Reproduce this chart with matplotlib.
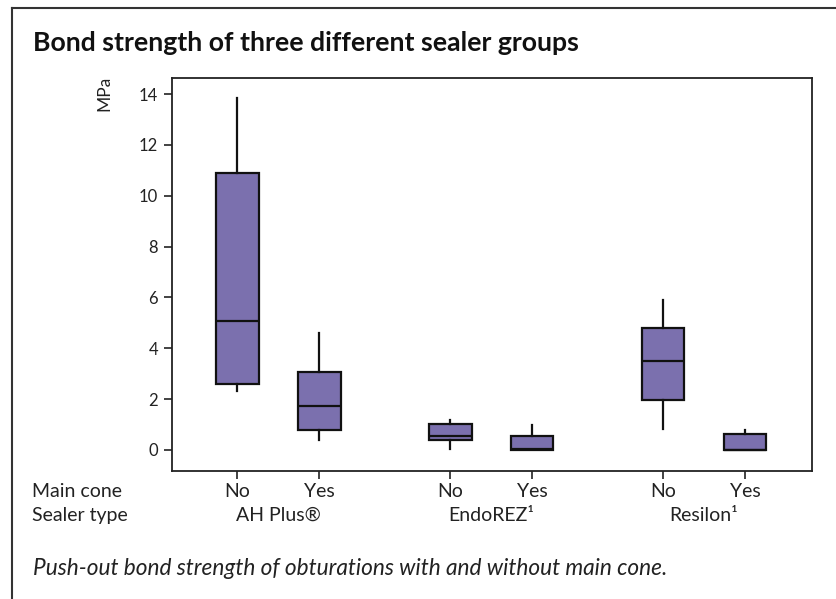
import matplotlib
matplotlib.use("Agg")
import matplotlib.pyplot as plt
from matplotlib.lines import Line2D

# Data (MPa)
main_cone = ["No", "Yes", "No", "Yes", "No", "Yes"]
sealer_types = ["AH Plus®", "EndoREZ¹", "Resilon¹"]
whisker_low = [2.33, 0.38, 0.05, 0.0, 0.84, 0.0]
q1 = [2.61, 0.79, 0.37, 0.0, 1.96, 0.0]
median = [5.06, 1.73, 0.56, 0.05, 3.50, 0.0]
q3 = [10.90, 3.08, 1.03, 0.55, 4.81, 0.63]
whisker_high = [13.86, 4.59, 1.18, 0.97, 5.88, 0.79]
positions = [0, 1, 2.6, 3.6, 5.2, 6.2]
yticks = [0, 2, 4, 6, 8, 10, 12, 14]

plt.rcParams['font.family'] = ['Lato', 'DejaVu Sans']

fig = plt.figure(figsize=(8.36, 5.99), dpi=100)
W, H = 836, 599
ax = fig.add_axes([172 / W, 1 - 471 / H, (812 - 172) / W, (471 - 78) / H])

stats = []
for i in range(len(median)):
    stats.append(dict(med=median[i], q1=q1[i], q3=q3[i],
                      whislo=whisker_low[i], whishi=whisker_high[i], fliers=[]))

ax.bxp(stats, positions=positions, widths=0.52, patch_artist=True,
       showcaps=False, showfliers=False,
       boxprops=dict(facecolor='#7b70ae', edgecolor='#111111', linewidth=1.6),
       medianprops=dict(color='#111111', linewidth=1.6),
       whiskerprops=dict(color='#111111', linewidth=1.6))

ax.set_xlim(-0.80, 7.02)
ax.set_ylim(-0.83, 14.63)
ax.set_yticks(yticks)
ax.set_yticklabels([str(t) for t in yticks], fontsize=12, color='#222222')
ax.set_xticks(positions)
ax.set_xticklabels([])
ax.tick_params(axis='both', direction='out', length=6, width=1.2, color='#222222')
ax.tick_params(axis='y', pad=4)
for s in ax.spines.values():
    s.set_linewidth(1.3)
    s.set_color('#222222')

# Y label
fig.text(104 / W, 1 - 93 / H, "MPa", rotation=90, fontsize=12.5,
         ha='center', va='center', color='#222222')

# x label rows
fig.text(32 / W, 1 - 497 / H, "Main cone", fontsize=14, ha='left', va='baseline', color='#222222')
fig.text(32 / W, 1 - 521 / H, "Sealer type", fontsize=14, ha='left', va='baseline', color='#222222')
for p, lab in zip(positions, main_cone):
    xd = ax.transData.transform((p, 0))[0]
    fig.text(xd / W, 1 - 497 / H, lab, fontsize=14, ha='center', va='baseline', color='#222222')
for g, lab in enumerate(sealer_types):
    mid = (positions[2 * g] + positions[2 * g + 1]) / 2
    xd = ax.transData.transform((mid, 0))[0]
    fig.text(xd / W, 1 - 521 / H, lab, fontsize=14, ha='center', va='baseline', color='#222222')

# Title and caption
fig.text(33 / W, 1 - 51 / H, "Bond strength of three different sealer groups",
         fontsize=19.2, fontweight='bold', ha='left', va='baseline', color='#111111')
fig.text(33 / W, 1 - 575 / H, "Push-out bond strength of obturations with and without main cone.",
         fontsize=16.3, style='italic', ha='left', va='baseline', color='#222222')

# Outer frame (left and top edges)
frame_kw = dict(transform=fig.transFigure, color='#333333', linewidth=1.5)
fig.add_artist(Line2D([12 / W, 12 / W], [0, 1 - 8 / H], **frame_kw))
fig.add_artist(Line2D([12 / W, 1.0], [1 - 8 / H, 1 - 8 / H], **frame_kw))

fig.savefig("out.png", dpi=100)
